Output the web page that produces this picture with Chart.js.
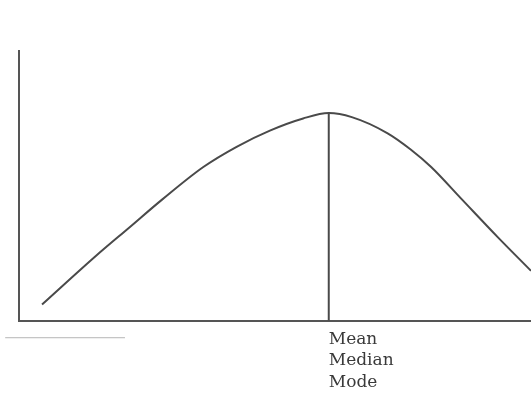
<!DOCTYPE html>
<html>
<head>
<meta charset="utf-8">
<script src="https://cdn.jsdelivr.net/npm/chart.js@4/dist/chart.umd.min.js"></script>
<style>
  html, body { margin: 0; padding: 0; background: #fff; }
  #wrap { width: 531px; height: 394px; }
</style>
</head>
<body>
<div id="wrap"><canvas id="curve"></canvas></div>
<script>
// skewed distribution curve (0-100 both ways)
const curveX = [4.5, 15, 21.5, 28, 36, 42.5, 49, 55.5, 60.5, 65, 72, 76.5, 80.5, 86.5, 93.5, 100];
const curveY = [6, 24, 34.5, 45, 57, 64.5, 70.5, 75, 77, 75.5, 69.5, 63.5, 57, 45, 31, 18.5];

// peak marker
const peakX = 60.5;
const peakY = 77;
const peakLabel = ['Mean', 'Median', 'Mode'];

// stray pencil stroke under the axis (left)
const strokeX = [-2.7, 20.7];
const strokeY = [-6.3, -6.3];

const toPts = (xs, ys) => xs.map((x, i) => ({ x: x, y: ys[i] }));

new Chart(document.getElementById('curve'), {
  type: 'scatter',
  data: {
    datasets: [{
      data: toPts(curveX, curveY),
      showLine: true,
      borderColor: '#4a4a4a',
      borderWidth: 2,
      pointRadius: 0,
      cubicInterpolationMode: 'monotone'
    }, {
      data: [{ x: peakX, y: 0 }, { x: peakX, y: peakY }],
      showLine: true,
      borderColor: '#4a4a4a',
      borderWidth: 2,
      pointRadius: 0
    }, {
      data: toPts(strokeX, strokeY),
      showLine: true,
      borderColor: '#b5b5b5',
      borderWidth: 1,
      pointRadius: 0,
      clip: false
    }]
  },
  options: {
    responsive: true,
    maintainAspectRatio: false,
    animation: false,
    layout: { padding: { left: 19, right: 0, top: 51, bottom: -7 } },
    plugins: { legend: { display: false }, tooltip: { enabled: false } },
    scales: {
      x: {
        type: 'linear',
        min: 0,
        max: 100,
        afterBuildTicks: (scale) => { scale.ticks = [{ value: peakX }]; },
        ticks: {
          callback: () => peakLabel,
          color: '#3a3a3a',
          font: { family: 'DejaVu Serif', size: 17, lineHeight: 1.26 },
          align: 'start',
          padding: 8,
          maxRotation: 0
        },
        grid: { drawOnChartArea: false, drawTicks: false },
        border: { color: '#555', width: 2 }
      },
      y: {
        min: 0,
        max: 100,
        ticks: { display: false },
        grid: { drawOnChartArea: false, drawTicks: false },
        border: { color: '#555', width: 2 }
      }
    }
  }
});
</script>
</body>
</html>
